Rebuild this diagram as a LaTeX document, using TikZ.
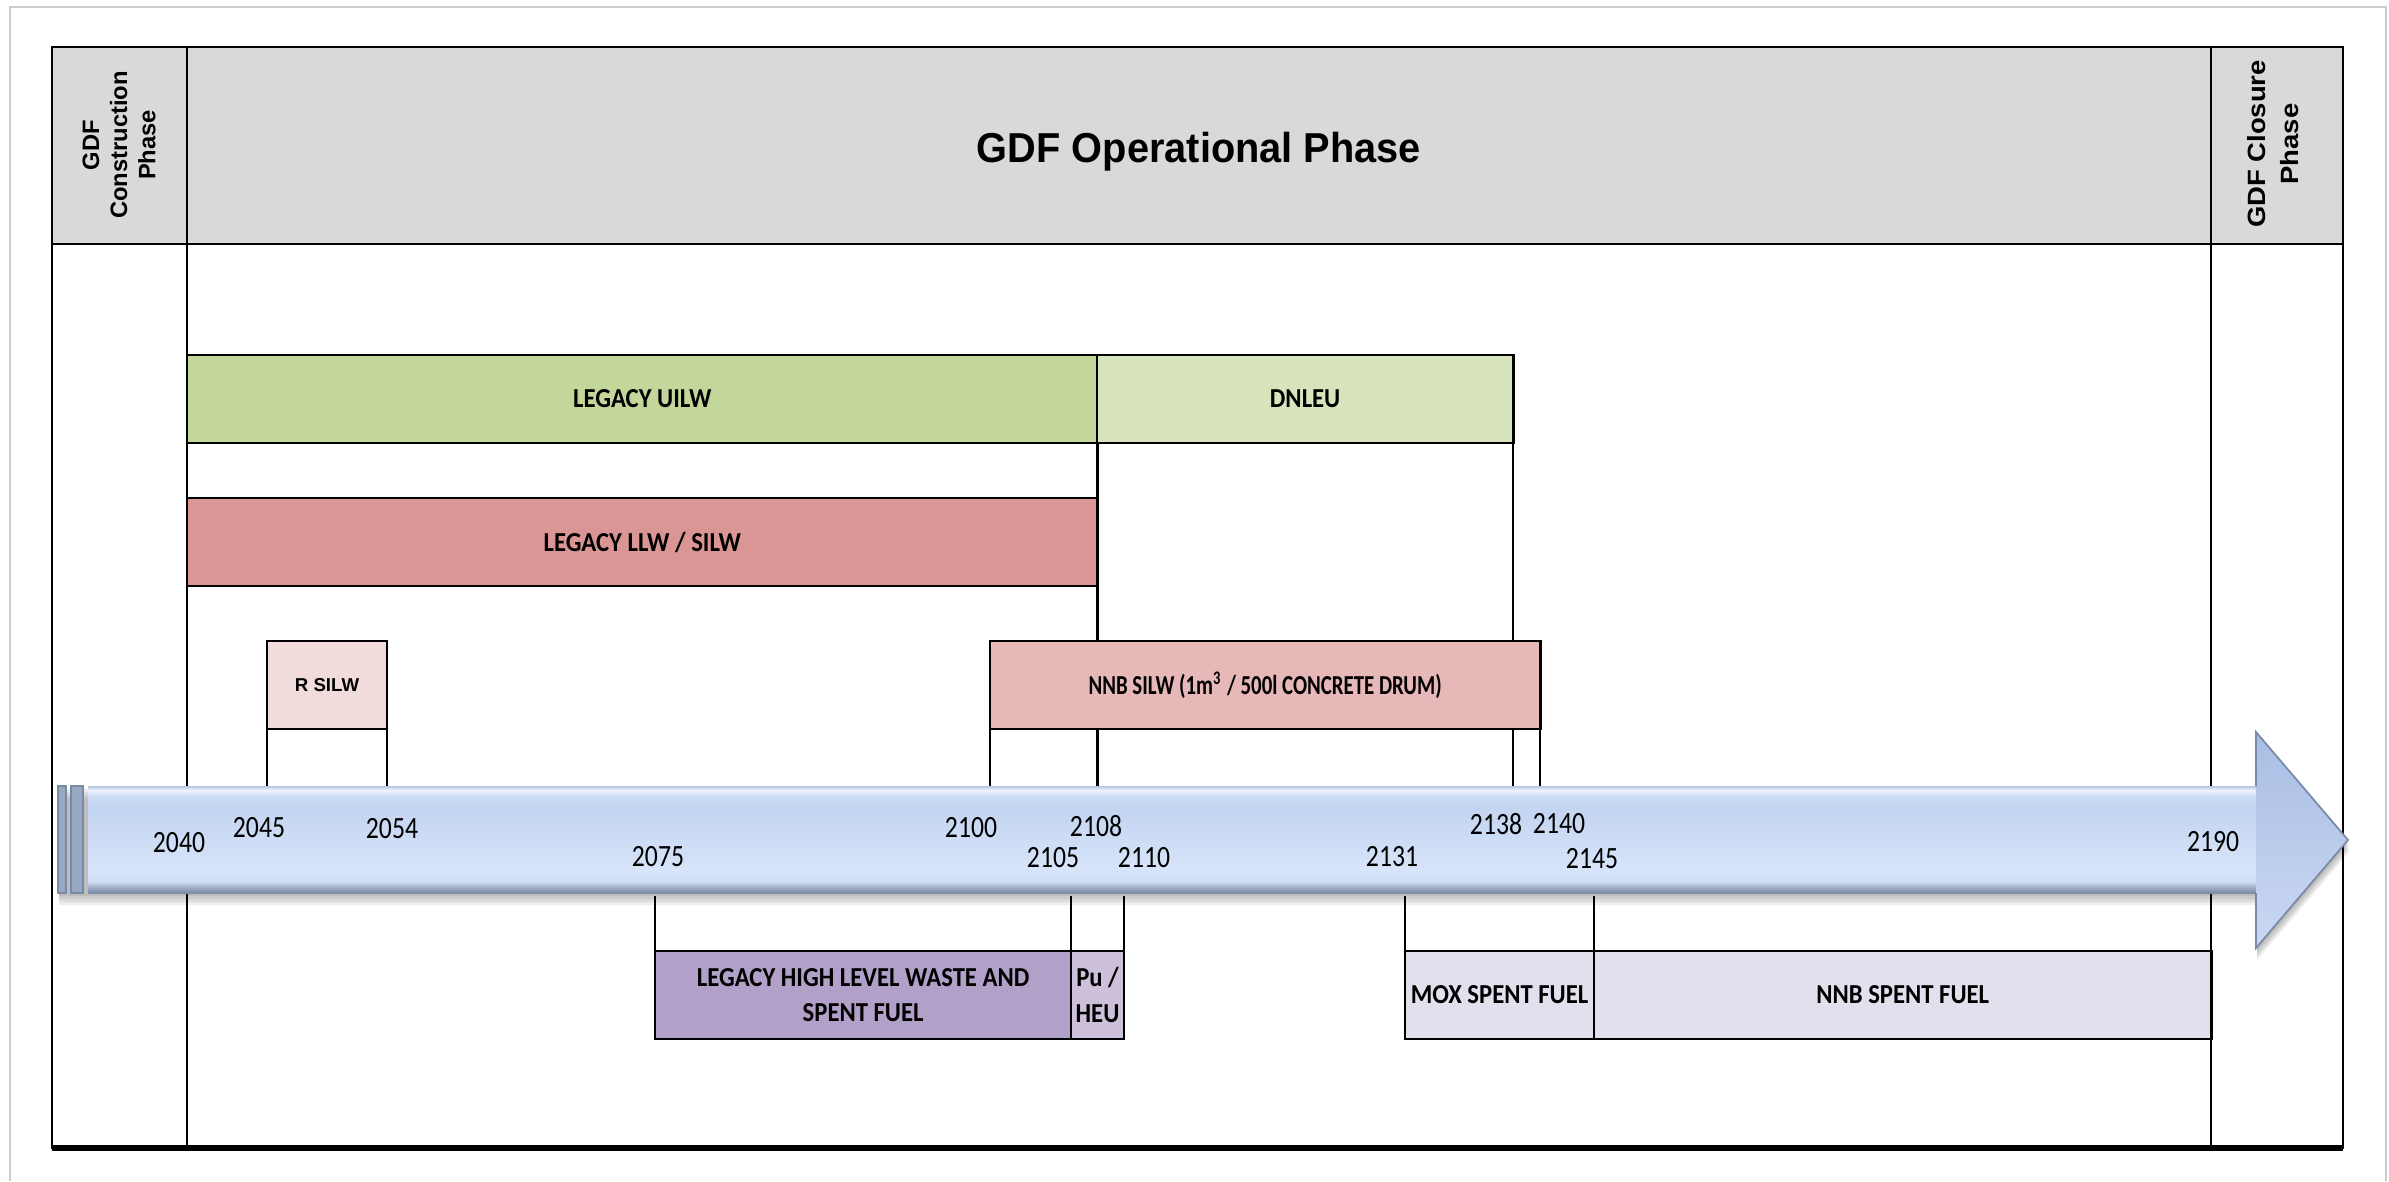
\documentclass[tikz,border=0pt]{standalone}
\usepackage{fontspec}
\setmainfont{Carlito}
\newfontfamily\hdfont[FakeStretch=0.95]{Liberation Sans}
\newfontfamily\sidefont{Liberation Sans}
\newfontfamily\closefont[FakeStretch=1.1]{Liberation Sans}
\newfontfamily\barfont[FakeStretch=0.9]{Carlito}
\newfontfamily\tightfont[FakeStretch=0.76]{Carlito}
\newfontfamily\yearfont[FakeStretch=0.83]{Carlito}

\definecolor{hdgray}{HTML}{D9D9D9}
\definecolor{uilwcol}{HTML}{C4D79B}
\definecolor{dnleucol}{HTML}{D8E4BC}
\definecolor{llwcol}{HTML}{DA9694}
\definecolor{rsilwcol}{HTML}{F2DCDB}
\definecolor{nnbcol}{HTML}{E6B8B7}
\definecolor{hlwcol}{HTML}{B1A0C7}
\definecolor{pucol}{HTML}{CCC0DA}
\definecolor{sfcol}{HTML}{E4DFEC}
\definecolor{arrdark}{HTML}{7A8AA5}
\definecolor{arredge}{HTML}{9DACC5}
\definecolor{arrlow}{HTML}{D2DEF4}
\definecolor{arrlowb}{HTML}{D7E4F9}
\definecolor{arrmid}{HTML}{C3D4F1}
\definecolor{arrup}{HTML}{D0DEF6}
\definecolor{arrhi}{HTML}{EEF4FD}
\definecolor{arrtop}{HTML}{B5C6E4}
\definecolor{headtop}{HTML}{A9BEE5}
\definecolor{headbot}{HTML}{CAD8F2}

\pgfdeclareverticalshading{timebar}{100bp}{color(0bp)=(arrdark); color(25bp)=(arrdark);
  color(27.5bp)=(arredge); color(30.5bp)=(arrlow); color(36bp)=(arrlowb); color(66bp)=(arrmid);
  color(70.5bp)=(arrup); color(73bp)=(arrhi); color(75bp)=(arrtop); color(100bp)=(arrtop)}

\newcommand{\timearrow}{(58,786) -- (2256,786) -- (2256,732) -- (2348,840) -- (2256,948) -- (2256,893) -- (58,893) -- cycle}

\begin{document}
\begin{tikzpicture}[x=0.01cm,y=-0.01cm,
  bar/.style={draw,line width=.8pt,inner sep=0pt,outer sep=0pt,minimum height=.88cm,
    anchor=north west,align=center,font=\barfont\bfseries\fontsize{7.8}{10.2}\selectfont},
  side/.style={rotate=90,align=center,inner sep=0pt},
  year/.style={inner sep=0pt,font=\yearfont\fontsize{8.8}{10}\selectfont},
  link/.style={line width=.6pt},
  grid/.style={line width=.8pt}]
\useasboundingbox (0,0) rectangle (2389,1181);

% page frame and table
\draw[gray!40,line width=.6pt] (10,1181) -- (10,7) -- (2386,7) -- (2386,1181);
\fill[hdgray] (52,47) rectangle (2343,244);
\draw[grid] (52,47) rectangle (2343,1148);
\draw[line width=1.6pt] (52,1148) -- (2343,1148);
\draw[grid] (52,244) -- (2343,244);
\draw[grid] (187,47) -- (187,1148);
\draw[grid] (2211,47) -- (2211,1148);

\node[font=\hdfont\bfseries\fontsize{11.9}{14}\selectfont] (oper) at (1199,152) {GDF Operational Phase};
\node[side,font=\sidefont\bfseries\fontsize{6.75}{8}\selectfont] (constr) at (119,145) {GDF\\Construction\\Phase};
\node[side,font=\closefont\bfseries\fontsize{7.1}{9.4}\selectfont] (closure) at (2273,144) {GDF Closure\\Phase};

% time arrow
\foreach \d in {3,6,9,12}
  \fill[black,opacity=.07,shift={(1,\d)}] \timearrow;
\shade[shading=timebar] (88,786) rectangle (2258,893);
\fill[arrdark!60!arrmid,draw=arrdark,line width=.4pt] (58,786) rectangle (66,893);
\fill[arrdark!60!arrmid,draw=arrdark,line width=.4pt] (71,786) rectangle (83,893);
\shade[top color=headtop,bottom color=headbot] (2256,732) -- (2348,840) -- (2256,948) -- cycle;
\draw[arrdark,line width=.5pt] (2256,786) -- (2256,732) -- (2348,840) -- (2256,948) -- (2256,893);
\coordinate (atop) at (0,786);
\coordinate (abot) at (0,896);

% waste streams
\node[bar,fill=uilwcol,minimum width=9.1cm] (uilw) at (187,355) {LEGACY UILW};
\node[bar,fill=dnleucol,minimum width=4.16cm] (dnleu) at (1097,355) {DNLEU};
\node[bar,fill=llwcol,minimum width=9.1cm] (llw) at (187,498) {LEGACY LLW / SILW};
\node[bar,fill=rsilwcol,minimum width=1.2cm,font=\sidefont\bfseries\fontsize{5.3}{6}\selectfont] (rsilw) at (267,641) {R SILW};
\node[bar,fill=nnbcol,minimum width=5.5cm,font=\tightfont\bfseries\fontsize{7.8}{10}\selectfont] (nnbsilw) at (990,641) {NNB SILW (1m\textsuperscript{3} / 500l CONCRETE DRUM)};
\node[bar,fill=hlwcol,minimum width=4.16cm] (hlw) at (655,951) {LEGACY HIGH LEVEL WASTE AND\\SPENT FUEL};
\node[bar,fill=pucol,minimum width=.53cm] (puheu) at (1071,951) {Pu /\\HEU};
\node[bar,fill=sfcol,minimum width=1.89cm] (mox) at (1405,951) {MOX SPENT FUEL};
\node[bar,fill=sfcol,minimum width=6.17cm] (nnbsf) at (1594,951) {NNB SPENT FUEL};

\draw[link] (uilw.south east) -- (llw.north east);
\draw[link] (llw.south east) -- (llw.south east |- nnbsilw.north);
\draw[link] (llw.south east |- nnbsilw.south) -- (llw.south east |- atop);
\draw[link] (dnleu.south east) -- (dnleu.south east |- nnbsilw.north);
\draw[link] (dnleu.south east |- nnbsilw.south) -- (dnleu.south east |- atop);
\foreach \a in {rsilw.south west,rsilw.south east,nnbsilw.south west,nnbsilw.south east}
  \draw[link] (\a) -- (\a |- atop);
\foreach \a in {hlw.north west,hlw.north east,puheu.north east,mox.north west,mox.north east}
  \draw[link] (\a) -- (\a |- abot);

% years
\foreach \yr/\x/\y in {2040/179/843,2045/259/828,2054/392/829,2075/658/857,2100/971/828,
    2105/1053/858,2108/1096/826,2110/1144/858,2131/1392/857,2138/1496/824,2140/1559/824,
    2145/1592/859,2190/2213/842}
  \node[year] (y\yr) at (\x,\y) {\yr};
\end{tikzpicture}
\end{document}
